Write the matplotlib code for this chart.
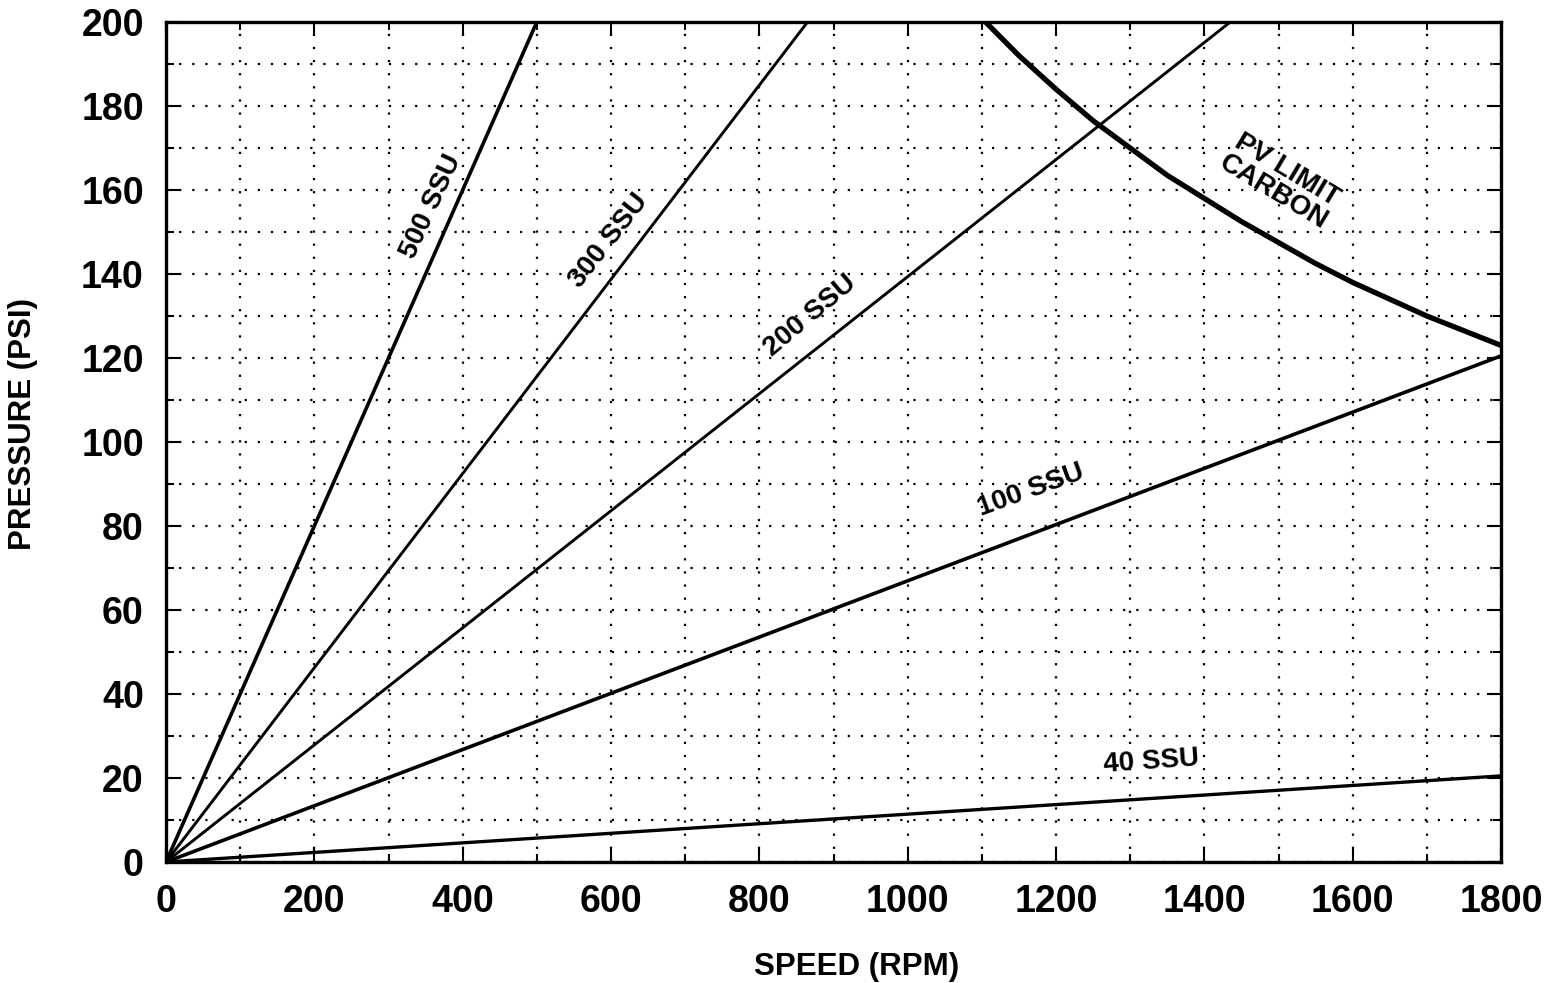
import matplotlib
matplotlib.use("Agg")
import matplotlib.pyplot as plt
from matplotlib.ticker import MultipleLocator

plt.rcParams["font.family"] = ["Liberation Sans", "DejaVu Sans"]
plt.rcParams["font.weight"] = "bold"

# viscosity lines: speed (rpm) vs pressure (psi)
rpm_500 = [0, 500]
psi_500 = [0, 200]
rpm_300 = [0, 865]
psi_300 = [0, 200]
rpm_200 = [0, 1435]
psi_200 = [0, 200]
rpm_100 = [0, 1800]
psi_100 = [0, 120.5]
rpm_40 = [0, 1800]
psi_40 = [0, 20.5]

# PV limit for carbon
rpm_pv = [1105, 1150, 1200, 1250, 1300, 1350, 1400, 1450, 1500,
          1550, 1600, 1650, 1700, 1750, 1800]
psi_pv = [200, 192, 184, 176.5, 170, 163.5, 158, 152.5, 147.5,
          142.5, 138, 134, 130, 126.5, 123]

# label text, anchor (rpm, psi), angle
labels = ["500 SSU", "300 SSU", "200 SSU", "100 SSU", "40 SSU", "PV LIMIT\nCARBON"]
label_rpm = [357, 597, 868, 1166, 1329, 1502]
label_psi = [156, 148, 130, 88.5, 23.8, 162]
label_rot = [65, 52, 40, 20, 4, -31]

fig = plt.figure(figsize=(15.58, 9.83), dpi=100)
ax = fig.add_axes([166 / 1558, 121 / 983, 1335 / 1558, 840 / 983])

ax.plot(rpm_500, psi_500, color="black", lw=2.6, solid_capstyle="butt")
ax.plot(rpm_300, psi_300, color="black", lw=2.1, solid_capstyle="butt")
ax.plot(rpm_200, psi_200, color="black", lw=2.1, solid_capstyle="butt")
ax.plot(rpm_100, psi_100, color="black", lw=2.6, solid_capstyle="butt")
ax.plot(rpm_40, psi_40, color="black", lw=2.4, solid_capstyle="butt")
ax.plot(rpm_pv, psi_pv, color="black", lw=3.8, solid_capstyle="butt")

for txt, x, y, r in zip(labels, label_rpm, label_psi, label_rot):
    ax.text(x, y, txt, rotation=r, rotation_mode="anchor", ha="center",
            va="center", fontsize=20, fontweight="bold", linespacing=1.0,
            multialignment="center")

ax.set_xlim(0, 1800)
ax.set_ylim(0, 200)
ax.xaxis.set_major_locator(MultipleLocator(200))
ax.xaxis.set_minor_locator(MultipleLocator(100))
ax.yaxis.set_major_locator(MultipleLocator(20))
ax.yaxis.set_minor_locator(MultipleLocator(10))

ax.grid(True, which="both", color="black", linestyle=(0, (1, 4.9)), linewidth=1.6)
ax.set_axisbelow(True)

ax.tick_params(which="both", direction="in", top=True, right=True, width=1.5)
ax.tick_params(which="major", length=10, pad=16, labelsize=27)
ax.tick_params(which="minor", length=6)
for lab in ax.get_xticklabels() + ax.get_yticklabels():
    lab.set_fontweight("bold")

for sp in ax.spines.values():
    sp.set_linewidth(2.4)

ax.set_xlabel("SPEED (RPM)", fontsize=22.5, fontweight="bold")
ax.set_ylabel("PRESSURE (PSI)", fontsize=22.5, fontweight="bold")
ax.xaxis.set_label_coords(0.517, -0.107)
ax.yaxis.set_label_coords(-0.096, 0.521)

fig.savefig("out.png", dpi=100, facecolor="white")
